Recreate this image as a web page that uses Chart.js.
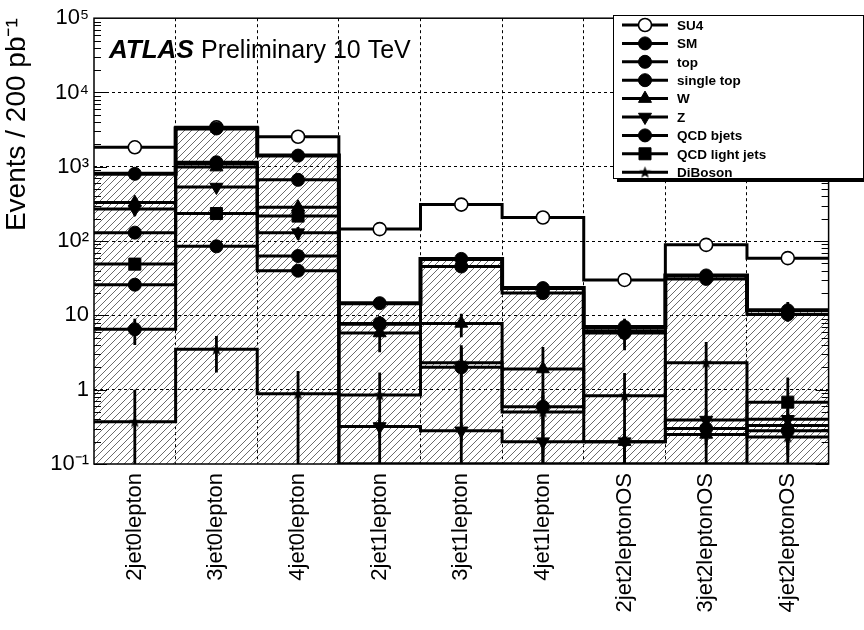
<!DOCTYPE html>
<html>
<head>
<meta charset="utf-8">
<title>ATLAS Preliminary 10 TeV</title>
<script src="https://cdn.jsdelivr.net/npm/chart.js@4.4.1/dist/chart.umd.min.js"></script>
<style>
  html, body { margin: 0; padding: 0; background: #fff; }
  #wrap { width: 864px; height: 630px; }
</style>
</head>
<body>
<div id="wrap"><canvas id="chart" width="864" height="630"></canvas></div>
<script>
// Signal regions (bins)
const categories = ['2jet0lepton', '3jet0lepton', '4jet0lepton', '2jet1lepton', '3jet1lepton',
                    '4jet1lepton', '2jet2leptonOS', '3jet2leptonOS', '4jet2leptonOS'];

// Expected events / 200 pb-1 (0 = empty bin)
const su4       = [1830, 3400, 2540, 145, 310, 208, 30, 89, 59];
const sm        = [805, 3280, 1415, 14.6, 57.6, 23.3, 7.0, 34.5, 11.7];
const topQuark  = [130, 1150, 668, 7.6, 45.5, 20, 5.8, 31, 10.3];
const singleTop = [6.5, 85, 40, 7.8, 2.0, 0.59, 6.2, 0.30, 0.28];
const wJets     = [330, 990, 286, 5.8, 7.8, 1.9, 0.2, 0.25, 0.33];
const zJets     = [270, 534, 130, 0.32, 0.28, 0.2, 0.2, 0.39, 0.40];
const qcdB      = [25.9, 1100, 63, 0, 0, 0, 0, 0, 0];
const qcdLight  = [49, 235, 217, 0, 0, 0, 0, 0, 0.68];
const diboson   = [0.37, 3.5, 0.88, 0.85, 2.3, 0.5, 0.83, 2.3, 0.23];

// statistical errors
const su4Err       = [40, 60, 50, 8, 12, 10, 3, 6, 5];
const smErr        = [25, 60, 40, 2, 3.5, 2.2, 1.2, 3, 3.5];
const topQuarkErr  = [8, 30, 20, 1.2, 2, 1.5, 0.6, 1.5, 1.0];
const singleTopErr = [2.5, 6, 5, 2, 1.95, 0.25, 2.8, 0.12, 0.12];
const wJetsErr     = [40, 90, 40, 2.6, 2.7, 1.85, 0.1, 0.15, 0.15];
const zJetsErr     = [50, 70, 25, 0.1, 0.08, 0.06, 0.06, 0.15, 0.15];
const qcdBErr      = [3, 40, 5, 0, 0, 0, 0, 0, 0];
const qcdLightErr  = [5, 12, 12, 0, 0, 0, 0, 0, 0.78];
const dibosonErr   = [0.63, 1.8, 0.9, 0.85, 1.4, 0.45, 0.85, 2.1, 0.1];

const yTicks = [0.1, 1, 10, 100, 1000, 10000, 100000];
const yTickLabels = ['10\u207B\u00B9', '1', '10', '10\u00B2', '10\u00B3', '10\u2074', '10\u2075'];

const FONT = '"Liberation Sans", Arial, Helvetica, sans-serif';
const yMin = 0.1, yMax = 1e5;

const canvas = document.getElementById('chart');
const ctx = canvas.getContext('2d');

// hatch fill like ROOT style 3004
function makeHatch() {
    const s = 7;
    const c = document.createElement('canvas');
    c.width = s; c.height = s;
    const g = c.getContext('2d');
    g.strokeStyle = '#3a3a3a';
    g.lineWidth = 0.75;
    g.beginPath();
    g.moveTo(0, s); g.lineTo(s, 0);
    g.moveTo(-1, 1); g.lineTo(1, -1);
    g.moveTo(s - 1, s + 1); g.lineTo(s + 1, s - 1);
    g.stroke();
    return ctx.createPattern(c, 'repeat');
}

function makeStar() {
    const c = document.createElement('canvas');
    c.width = 13; c.height = 13;
    const g = c.getContext('2d');
    g.fillStyle = '#000';
    g.beginPath();
    for (let k = 0; k < 10; k++) {
        const r = k % 2 === 0 ? 6.3 : 2.6;
        const a = -Math.PI / 2 + k * Math.PI / 5;
        const px = 6.5 + r * Math.cos(a), py = 6.8 + r * Math.sin(a);
        if (k === 0) g.moveTo(px, py); else g.lineTo(px, py);
    }
    g.closePath();
    g.fill();
    return c;
}

const hatch = makeHatch();
const star = makeStar();

const series = [
    { name: 'SU4', values: su4, errors: su4Err, style: 'circle', radius: 6.5, open: true },
    { name: 'SM', values: sm, errors: smErr, style: 'circle', radius: 6.5, width: 4, hatched: true },
    { name: 'top', values: topQuark, errors: topQuarkErr, style: 'circle', radius: 6.5 },
    { name: 'single top', values: singleTop, errors: singleTopErr, style: 'circle', radius: 6.5 },
    { name: 'W', values: wJets, errors: wJetsErr, style: 'triangle', radius: 7.5 },
    { name: 'Z', values: zJets, errors: zJetsErr, style: 'triangle', radius: 7.5, rotation: 180 },
    { name: 'QCD bjets', values: qcdB, errors: qcdBErr, style: 'circle', radius: 6.5 },
    { name: 'QCD light jets', values: qcdLight, errors: qcdLightErr, style: 'rect', radius: 8.5 },
    { name: 'DiBoson', values: diboson, errors: dibosonErr, style: star, radius: 6 }
];

const datasets = [];
series.forEach((s, k) => {
    // histogram outline: one point per bin low edge plus the last high edge (empty bins sit on the floor)
    const steps = s.values.map((v, i) => ({ x: i, y: v > 0 ? v : yMin }));
    steps.push({ x: s.values.length, y: s.values[s.values.length - 1] > 0 ? s.values[s.values.length - 1] : yMin });
    datasets.push({
        type: 'line',
        label: s.name,
        data: steps,
        stepped: true,
        borderColor: '#000',
        borderWidth: s.width || 3,
        pointRadius: 0,
        pointHoverRadius: 0,
        fill: s.hatched ? 'start' : false,
        backgroundColor: s.hatched ? hatch : 'transparent',
        order: 40 - k
    });
    // markers at bin centres
    datasets.push({
        type: 'line',
        label: s.name + ' markers',
        data: s.values.map((v, i) => ({ x: i + 0.5, y: v > 0 ? v : null })),
        showLine: false,
        errors: s.errors,
        pointStyle: s.style,
        pointRadius: s.radius,
        pointHoverRadius: s.radius,
        pointRotation: s.rotation || 0,
        pointBackgroundColor: s.open ? '#fff' : '#000',
        pointBorderColor: '#000',
        pointBorderWidth: s.open ? 1.6 : 1,
        order: 20 - k
    });
});

// vertical error bars, drawn just before each marker set
const errorBars = {
    id: 'errorBars',
    beforeDatasetDraw(chart, args) {
        const ds = chart.data.datasets[args.index];
        if (!ds.errors) return;
        const { ctx, chartArea: a, scales: { x, y } } = chart;
        ctx.save();
        ctx.strokeStyle = '#000';
        ctx.lineWidth = 2.8;
        ctx.beginPath();
        ds.data.forEach((p, i) => {
            const e = ds.errors[i];
            if (p.y === null || !e) return;
            const px = x.getPixelForValue(p.x);
            const hi = Math.max(y.getPixelForValue(p.y + e), a.top);
            const lo = p.y - e > yMin ? y.getPixelForValue(p.y - e) : a.bottom;
            ctx.moveTo(px, hi);
            ctx.lineTo(px, lo);
        });
        ctx.stroke();
        ctx.restore();
    }
};

// frame with ROOT-style inner log ticks
const frame = {
    id: 'frame',
    afterDatasetsDraw(chart) {
        const { ctx, chartArea: a, scales: { y } } = chart;
        ctx.save();
        ctx.strokeStyle = '#000';
        ctx.lineWidth = 1.5;
        ctx.strokeRect(a.left, a.top, a.right - a.left, a.bottom - a.top);
        ctx.lineWidth = 1.2;
        ctx.beginPath();
        for (let d = -1; d < 5; d++) {
            for (let m = 1; m < 10; m++) {
                const py = Math.round(y.getPixelForValue(m * Math.pow(10, d))) + 0.5;
                const len = m === 1 ? 13 : 7;
                ctx.moveTo(a.left, py); ctx.lineTo(a.left + len, py);
                ctx.moveTo(a.right, py); ctx.lineTo(a.right - len, py);
            }
        }
        ctx.stroke();
        ctx.restore();
    }
};

// ATLAS label and the legend box
const decorations = {
    id: 'decorations',
    afterDraw(chart) {
        const { ctx } = chart;
        ctx.save();
        ctx.fillStyle = '#000';
        ctx.textBaseline = 'alphabetic';
        ctx.font = 'italic bold 26px ' + FONT;
        ctx.fillText('ATLAS', 109, 58);
        const w = ctx.measureText('ATLAS ').width;
        ctx.font = '25px ' + FONT;
        ctx.fillText('Preliminary 10 TeV', 109 + w, 58);

        // legend
        const bx = 613, by = 15, bw = 250, bh = 163;
        ctx.fillRect(bx + 4, by + 4, bw, bh);
        ctx.fillStyle = '#fff';
        ctx.fillRect(bx, by, bw, bh);
        ctx.strokeStyle = '#000';
        ctx.lineWidth = 1;
        ctx.strokeRect(bx + 0.5, by + 0.5, bw, bh);

        ctx.font = 'bold 13.5px ' + FONT;
        ctx.textBaseline = 'middle';
        series.forEach((s, k) => {
            const cy = 25 + k * 18.4;
            ctx.strokeStyle = '#000';
            ctx.lineWidth = 3;
            ctx.beginPath();
            ctx.moveTo(622, cy); ctx.lineTo(668, cy);
            ctx.stroke();
            ctx.fillStyle = s.open ? '#fff' : '#000';
            ctx.lineWidth = s.open ? 1.6 : 1;
            Chart.helpers.drawPoint(ctx, {
                pointStyle: s.style, radius: s.radius, rotation: s.rotation || 0, borderWidth: ctx.lineWidth
            }, 645, cy);
            ctx.fillStyle = '#000';
            ctx.fillText(s.name, 677, cy + 1);
        });
        ctx.restore();
    }
};

new Chart(ctx, {
    data: { datasets: datasets },
    options: {
        responsive: false,
        animation: false,
        events: [],
        layout: { padding: { left: 0, right: 35, top: 15, bottom: 0 } },
        plugins: {
            legend: { display: false },
            tooltip: { enabled: false }
        },
        scales: {
            x: {
                type: 'linear',
                min: 0,
                max: categories.length,
                afterBuildTicks: scale => {
                    const t = [];
                    for (let i = 0; i <= categories.length * 2; i++) t.push({ value: i / 2 });
                    scale.ticks = t;
                },
                ticks: {
                    autoSkip: false,
                    minRotation: 90,
                    maxRotation: 90,
                    padding: 9,
                    color: '#000',
                    font: { family: FONT, size: 22 },
                    callback: v => (v % 1 === 0.5 ? categories[Math.floor(v)] : '')
                },
                grid: {
                    drawTicks: false,
                    lineWidth: 1,
                    color: c => (c.tick && Number.isInteger(c.tick.value) && c.tick.value > 0 &&
                                 c.tick.value < categories.length) ? '#000' : 'transparent'
                },
                border: { display: false, dash: [3, 3] },
                afterFit: scale => { scale.height = 166; }
            },
            y: {
                type: 'logarithmic',
                min: yMin,
                max: yMax,
                afterBuildTicks: scale => { scale.ticks = yTicks.map(v => ({ value: v })); },
                ticks: {
                    padding: 5,
                    color: '#000',
                    font: { family: FONT, size: 22 },
                    callback: v => yTickLabels[yTicks.indexOf(v)]
                },
                grid: {
                    drawTicks: false,
                    lineWidth: 1,
                    color: c => (c.tick && c.tick.value > yMin && c.tick.value < yMax) ? '#000' : 'transparent'
                },
                border: { display: false, dash: [3, 3] },
                title: {
                    display: true,
                    text: 'Events / 200 pb\u207B\u00B9',
                    align: 'end',
                    color: '#000',
                    padding: { top: 0, bottom: 0 },
                    font: { family: FONT, size: 28 }
                },
                afterFit: scale => { scale.width = 94; }
            }
        }
    },
    plugins: [errorBars, frame, decorations]
});
</script>
</body>
</html>
